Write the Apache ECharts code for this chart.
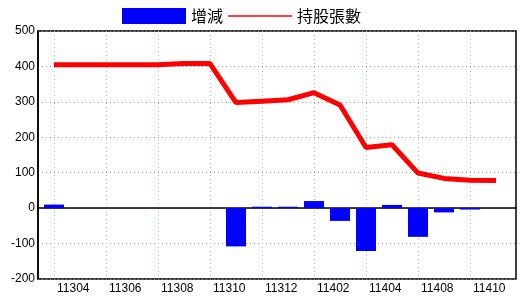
<!DOCTYPE html>
<html>
<head>
<meta charset="utf-8">
<script src="https://cdn.jsdelivr.net/npm/echarts@6/dist/echarts.min.js"></script>
<style>html,body{margin:0;padding:0;background:#fff}#c{width:520px;height:300px}</style>
</head>
<body>
<div id="c"></div>
<script>
var categories = ['11304','11305','11306','11307','11308','11309','11310','11311','11312','11401','11402','11403','11404','11406','11408','11409','11410','11411'];
var changes = [10,0,0,0,0,0,0,-108,4,4,20,-36,-121,9,-81,-12,-4,0];
var holdings = [405,405,405,405,405,408,408,298,302,306,326,291,171,179,99,84,79,78];
var yTicks = [-200,-100,0,100,200,300,400,500];

var numFont = "'Liberation Sans',Arial,sans-serif";
var chart = echarts.init(document.getElementById('c'), null, {renderer:'canvas'});
chart.setOption({
  animation:false,
  backgroundColor:'#fff',
  legend:{
    left:122, top:8, padding:0, itemGap:5, itemWidth:64, itemHeight:16,
    textStyle:{fontSize:16, color:'#000', fontFamily:"'Noto Sans CJK TC',sans-serif"},
    data:[{name:'增減', icon:'rect'},{name:'持股張數', icon:'path://M0,0H64V1.3H0Z'}]
  },
  grid:[
    {left:38, right:4, top:31, bottom:21, show:true, borderColor:'#000', borderWidth:1.5, backgroundColor:'transparent'},
    {left:54, right:24, top:31, bottom:21}
  ],
  xAxis:[
    {gridIndex:0, type:'value', min:0, max:1, show:true,
     axisLine:{show:true, onZero:true, lineStyle:{color:'#000', width:1.5}},
     axisTick:{show:false}, axisLabel:{show:false}, splitLine:{show:false}},
    {gridIndex:1, type:'category', data:categories, boundaryGap:false,
     axisLine:{show:false}, axisTick:{show:false},
     axisLabel:{interval:1, margin:4, fontSize:12, color:'#000', fontFamily:numFont, align:'left', padding:[0,0,0,3]},
     splitLine:{show:true, interval:1, lineStyle:{color:'#a0c4da', type:[1,3], width:1}}}
  ],
  yAxis:[
    {gridIndex:0, type:'value', min:yTicks[0], max:yTicks[yTicks.length-1], interval:100,
     axisLine:{show:true, lineStyle:{color:'#000', width:1.5}}, axisTick:{show:false},
     axisLabel:{margin:3, fontSize:12, color:'#000', fontFamily:numFont},
     splitLine:{show:true, lineStyle:{color:'#999999', type:[1,3], width:1}}},
    {gridIndex:1, type:'value', min:yTicks[0], max:yTicks[yTicks.length-1], interval:100, show:false, splitLine:{show:false}}
  ],
  series:[
    {name:'增減', type:'bar', xAxisIndex:1, yAxisIndex:1, data:changes, barWidth:20, itemStyle:{color:'#0000ff'}, z:3},
    {name:'持股張數', type:'line', xAxisIndex:1, yAxisIndex:1, data:holdings, symbol:'none', lineStyle:{color:'#ff0000', width:5}, itemStyle:{color:'#ff0000'}, z:4}
  ]
});
</script>
</body>
</html>
